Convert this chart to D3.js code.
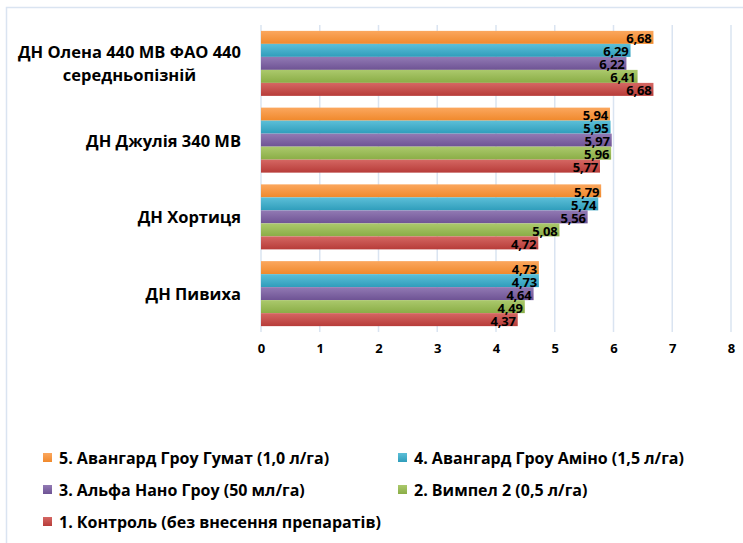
<!DOCTYPE html>
<html>
<head>
<meta charset="utf-8">
<script src="https://cdn.jsdelivr.net/npm/d3@7"></script>
<style>
  body { margin: 0; background: #fff; }
  svg text { font-family: "Open Sans", Lato, sans-serif; font-weight: bold; fill: #000; }
</style>
</head>
<body>
<svg id="chart" width="743" height="543"></svg>
<script>
// categories, top to bottom
var varieties = [
  ["ДН Олена 440 МВ ФАО 440", "середньопізній"],
  ["ДН Джулія 340 МВ"],
  ["ДН Хортиця"],
  ["ДН Пивиха"]
]
// series in the order they are stacked inside a group (top first)
var treatments = [
  "5. Авангард Гроу Гумат (1,0 л/га)",
  "4. Авангард Гроу Аміно (1,5 л/га)",
  "3. Альфа Нано Гроу (50 мл/га)",
  "2. Вимпел 2 (0,5 л/га)",
  "1. Контроль (без внесення препаратів)"
]
var gumat = [6.68, 5.94, 5.79, 4.73]
var amino = [6.29, 5.95, 5.74, 4.73]
var alfa = [6.22, 5.97, 5.56, 4.64]
var vympel = [6.41, 5.96, 5.08, 4.49]
var control = [6.68, 5.77, 4.72, 4.37]
var xTicks = [0, 1, 2, 3, 4, 5, 6, 7, 8]

var seriesValues = [gumat, amino, alfa, vympel, control]
var colors = [
  ["#fba75e", "#f0892c"],
  ["#5cbfd8", "#2f9dbb"],
  ["#927ab4", "#6e5394"],
  ["#abc96c", "#8aad46"],
  ["#d56763", "#b73c39"]
]

var svg = d3.select("#chart")
var plot = {left: 261, right: 731, top: 25, bottom: 332}

// outer chart border (continues past the window)
svg.append("rect")
  .attr("x", 6.5).attr("y", 7.5).attr("width", 800).attr("height", 600)
  .attr("fill", "none").attr("stroke", "#dae4f1").attr("stroke-width", 1.5)

var defs = svg.append("defs")
colors.forEach(function (c, i) {
  var g = defs.append("linearGradient").attr("id", "grad" + i)
    .attr("x1", 0).attr("y1", 0).attr("x2", 0).attr("y2", 1)
  g.append("stop").attr("offset", "0%").attr("stop-color", c[0])
  g.append("stop").attr("offset", "100%").attr("stop-color", c[1])
})

var x = d3.scaleLinear().domain([0, 8]).range([plot.left, plot.right])
var y0 = d3.scaleBand().domain(d3.range(varieties.length))
  .range([plot.top, plot.bottom]).paddingInner(0.153).paddingOuter(0.0765)
var y1 = d3.scaleBand().domain(d3.range(treatments.length))
  .range([0, y0.bandwidth()])

// gridlines
svg.append("g").selectAll("line").data(xTicks).join("line")
  .attr("x1", function (d) { return x(d) }).attr("x2", function (d) { return x(d) })
  .attr("y1", plot.top).attr("y2", plot.bottom)
  .attr("stroke", "#dae4f1").attr("stroke-width", 1.5)

// bars
varieties.forEach(function (v, gi) {
  var grp = svg.append("g").attr("transform", "translate(0," + y0(gi) + ")")
  seriesValues.forEach(function (vals, si) {
    grp.append("rect")
      .attr("x", x(0)).attr("y", y1(si))
      .attr("width", x(vals[gi]) - x(0)).attr("height", y1.bandwidth())
      .attr("fill", "url(#grad" + si + ")")
  })
  // labels on top of all bars of the group
  seriesValues.forEach(function (vals, si) {
    grp.append("text")
      .attr("x", x(vals[gi]) - 2).attr("y", y1(si) + y1.bandwidth() / 2 + 1)
      .attr("text-anchor", "end").attr("dominant-baseline", "central")
      .style("font-size", "13px").style("letter-spacing", "-0.2px")
      .text(d3.format(".2f")(vals[gi]).replace(".", ","))
  })
})

// x axis labels
var xAxis = d3.axisBottom(x).tickValues(xTicks).tickSize(0).tickPadding(0)
var ax = svg.append("g").attr("transform", "translate(0,347)").call(xAxis)
ax.select(".domain").remove()
ax.selectAll("text").style("font-size", "13px").style("font-family", null)
  .attr("dy", "0.45em")

// category labels: block right-aligned, lines centred on each other
varieties.forEach(function (lines, gi) {
  var cy = y0(gi) + y0.bandwidth() / 2
  var t = svg.append("text").attr("text-anchor", "middle").style("font-size", "16.5px")
  var lh = 23
  lines.forEach(function (l, li) {
    t.append("tspan").attr("x", 0)
      .attr("y", cy + (li - (lines.length - 1) / 2) * lh)
      .attr("dominant-baseline", "central").text(l)
  })
  var w = 0
  t.selectAll("tspan").each(function () { w = Math.max(w, this.getComputedTextLength()) })
  t.selectAll("tspan").attr("x", 241 - w / 2)
})

// legend
var legendPos = [[43, 458], [398, 458], [43, 490], [398, 490], [43, 522]]
treatments.forEach(function (name, i) {
  var p = legendPos[i]
  svg.append("rect").attr("x", p[0]).attr("y", p[1] - 5).attr("width", 9).attr("height", 9)
    .attr("fill", "url(#grad" + i + ")")
  svg.append("text").attr("x", p[0] + 16).attr("y", p[1])
    .attr("dominant-baseline", "central").style("font-size", "16px").text(name)
})
</script>
</body>
</html>
